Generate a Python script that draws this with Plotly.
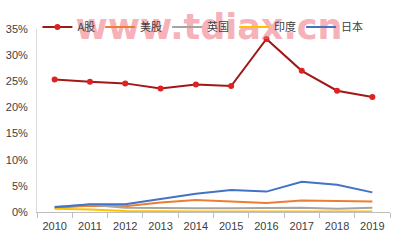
import plotly.graph_objects as go

years = ["2010", "2011", "2012", "2013", "2014", "2015", "2016", "2017", "2018", "2019"]
a_share = [0.2535, 0.249, 0.246, 0.236, 0.244, 0.241, 0.331, 0.270, 0.232, 0.220]
us = [0.008, 0.012, 0.011, 0.018, 0.023, 0.020, 0.017, 0.022, 0.021, 0.020]
uk = [0.010, 0.014, 0.008, 0.007, 0.007, 0.007, 0.007, 0.008, 0.006, 0.008]
india = [0.006, 0.005, 0.002, 0.001, 0.001, 0.001, 0.001, 0.001, 0.001, 0.001]
japan = [0.009, 0.015, 0.015, 0.025, 0.035, 0.042, 0.039, 0.058, 0.052, 0.0375]
tick_vals = [0, 0.05, 0.10, 0.15, 0.20, 0.25, 0.30, 0.35]
tick_text = ["0%", "5%", "10%", "15%", "20%", "25%", "30%", "35%"]
watermark = "www.tdiax.cn"

fig = go.Figure()
# watermark drawn as a text trace so the legend stays on top of it
fig.add_trace(go.Scatter(x=[0.487], y=[0.995], text=[watermark], mode="text",
                         textposition="middle center", showlegend=False, hoverinfo="skip",
                         cliponaxis=False, xaxis="x2", yaxis="y2",
                         textfont=dict(family="DejaVu Sans", size=35, weight="bold",
                                       color="rgba(240,110,125,0.55)")))
fig.add_trace(go.Scatter(x=years, y=a_share, name="A股", mode="lines+markers",
                         line=dict(color="#A01818", width=2),
                         marker=dict(color="#DD2222", size=6)))
fig.add_trace(go.Scatter(x=years, y=us, name="美股", mode="lines",
                         line=dict(color="#ED7D31", width=2)))
fig.add_trace(go.Scatter(x=years, y=uk, name="英国", mode="lines",
                         line=dict(color="#A5A5A5", width=2)))
fig.add_trace(go.Scatter(x=years, y=india, name="印度", mode="lines",
                         line=dict(color="#FFC000", width=2)))
fig.add_trace(go.Scatter(x=years, y=japan, name="日本", mode="lines",
                         line=dict(color="#4472C4", width=2)))

fig.update_layout(
    width=402, height=241,
    margin=dict(l=37, r=12, t=13, b=29),
    paper_bgcolor="white", plot_bgcolor="white",
    font=dict(family="Noto Sans CJK SC, Liberation Sans, sans-serif", size=11, color="#595959"),
    showlegend=True,
    legend=dict(orientation="h", x=0.47, y=1.09, xanchor="center", yanchor="top",
                bgcolor="rgba(0,0,0,0)", font=dict(size=11, color="#404040"),
                itemwidth=30, tracegroupgap=0),
    xaxis=dict(type="category", showgrid=False, showline=True, linecolor="#BFBFBF",
               ticks="outside", tickson="boundaries", ticklen=5, tickcolor="#BFBFBF",
               ticklabelstandoff=4, automargin=False,
               tickfont=dict(family="Liberation Sans, sans-serif", size=11, color="#404040"),
               range=[-0.5, 9.5], zeroline=False),
    yaxis=dict(range=[0, 0.35], tickvals=tick_vals, ticktext=tick_text, showgrid=False,
               showline=True, linecolor="#D9D9D9", zeroline=False, ticks="",
               ticklabelstandoff=6, automargin=False,
               tickfont=dict(family="Liberation Sans, sans-serif", size=11, color="#404040")),
    xaxis2=dict(overlaying="x", range=[0, 1], visible=False, fixedrange=True),
    yaxis2=dict(overlaying="y", range=[0, 1], visible=False, fixedrange=True),
)

fig.write_html("out.html")
